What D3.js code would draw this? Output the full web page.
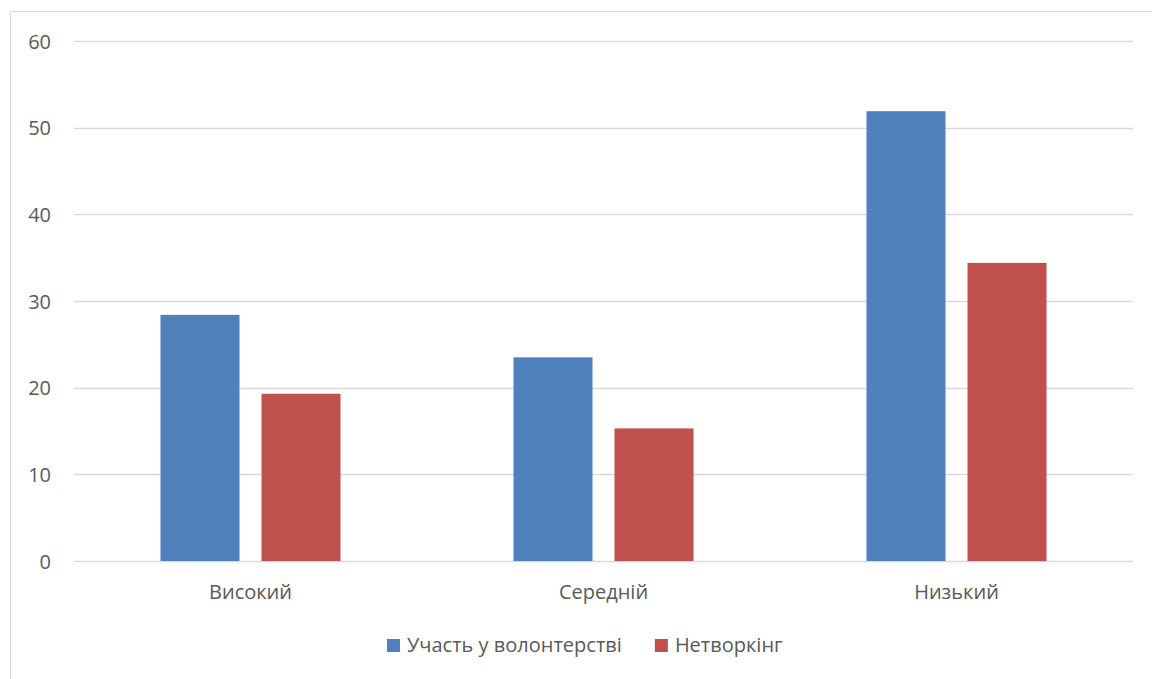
<!DOCTYPE html>
<html>
<head>
<meta charset="utf-8">
<script src="https://cdn.jsdelivr.net/npm/d3@7"></script>
<style>
  body { margin: 0; background: #fff; }
  svg text { font-family: "Open Sans", "Noto Sans", sans-serif; fill: #595959; }
</style>
</head>
<body>
<svg id="chart"></svg>
<script>
// categories and series
const categories = ["Високий", "Середній", "Низький"];
const seriesNames = ["Участь у волонтерстві", "Нетворкінг"];
const volunteering = [28.4, 23.5, 51.9];
const networking = [19.3, 15.3, 34.4];
const yTicks = [0, 10, 20, 30, 40, 50, 60];
const colors = ["#4f81bd", "#c0504d"];

const width = 1152, height = 679;
const margin = { top: 41, right: 19, bottom: 118, left: 74 };
const w = width - margin.left - margin.right;
const h = height - margin.top - margin.bottom;
const fontSize = "20px";

const data = categories.map((c, i) => ({
  cat: c,
  values: [volunteering[i], networking[i]]
}));

const root = d3.select("#chart").attr("width", width).attr("height", height);

// outer frame (only top and left visible in the original)
root.append("path")
  .attr("d", `M10.5,${height} V11.5 H${width}`)
  .attr("fill", "none")
  .attr("stroke", "#d9d9d9")
  .attr("stroke-width", 1);

const svg = root.append("g").attr("transform", `translate(${margin.left},${margin.top})`);

const x0 = d3.scaleBand().domain(categories).range([0, w]).paddingInner(0.49).paddingOuter(0.245);
const x1 = d3.scaleBand().domain(seriesNames).range([0, x0.bandwidth()]).paddingInner(0.218);
const y = d3.scaleLinear().domain([0, 60]).range([h, 0]);

// gridlines
svg.append("g")
  .selectAll("line")
  .data(yTicks)
  .join("line")
  .attr("x1", 0)
  .attr("x2", w)
  .attr("y1", d => Math.round(y(d)) + 0.5)
  .attr("y2", d => Math.round(y(d)) + 0.5)
  .attr("stroke", "#d9d9d9")
  .attr("stroke-width", 1.3);

// y axis labels
const yAxis = d3.axisLeft(y).tickValues(yTicks).tickSize(0).tickPadding(23);
svg.append("g")
  .call(yAxis)
  .style("font-size", fontSize)
  .call(g => g.select(".domain").remove())
  .selectAll("text").attr("fill", "#595959").attr("dy", "0.35em");

// bars
const groups = svg.append("g")
  .selectAll("g")
  .data(data)
  .join("g")
  .attr("transform", d => `translate(${x0(d.cat)},0)`);

groups.selectAll("rect")
  .data(d => d.values.map((v, i) => ({ key: seriesNames[i], value: v, i })))
  .join("rect")
  .attr("x", d => x1(d.key))
  .attr("y", d => y(d.value))
  .attr("width", x1.bandwidth())
  .attr("height", d => y(0) - y(d.value))
  .attr("fill", d => colors[d.i]);

// x axis labels
const xAxis = d3.axisBottom(x0).tickSize(0).tickPadding(24);
svg.append("g")
  .attr("transform", `translate(0,${h})`)
  .call(xAxis)
  .style("font-size", fontSize)
  .call(g => g.select(".domain").remove())
  .selectAll("text").attr("fill", "#595959");

// legend
const legend = root.append("g").attr("transform", "translate(387,639)");
let lx = 0;
seriesNames.forEach((name, i) => {
  const item = legend.append("g").attr("transform", `translate(${lx},0)`);
  item.append("rect").attr("width", 13).attr("height", 13).attr("fill", colors[i]);
  const t = item.append("text")
    .attr("x", 20)
    .attr("y", 13)
    .style("font-size", fontSize)
    .text(name);
  lx += 20 + t.node().getComputedTextLength() + 33;
});
</script>
</body>
</html>
